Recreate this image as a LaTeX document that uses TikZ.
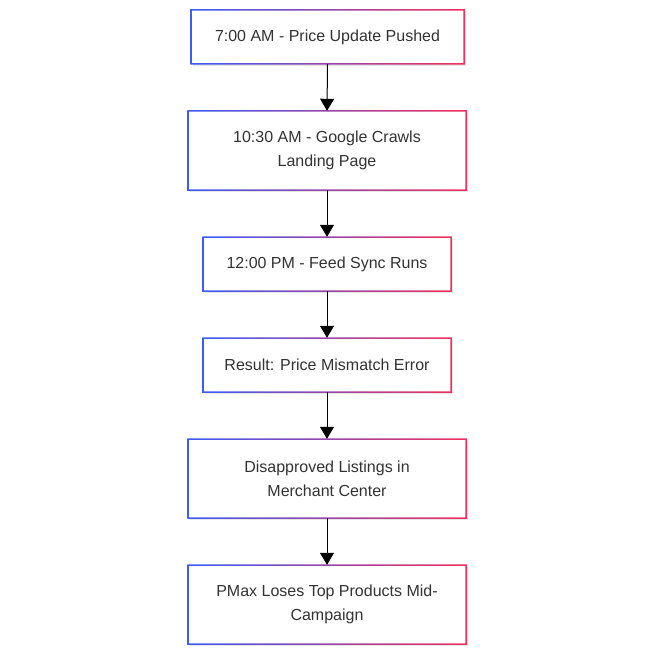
\documentclass[tikz,border=0pt]{standalone}
\usepackage{fontspec}
\setmainfont{Liberation Sans}
\usetikzlibrary{arrows.meta}
\definecolor{bl}{HTML}{3A5CF8}
\definecolor{pk}{HTML}{F2305C}
\definecolor{tx}{HTML}{333333}
\tikzset{
  boxnode/.style={draw=none,fill=white,align=center,text=tx,font=\fontsize{16}{24}\selectfont,inner sep=0pt},
  conn/.style={-{Triangle[length=12pt,width=14pt]},line width=1pt,black}
}
\newcommand{\gbox}[6]{% name, x1,y1,x2,y2, text
  \fill[black!10] (#2+1.5,#3+2) rectangle (#4+1.5,#5+2);
  \node[boxnode,minimum width=#4-#2,minimum height=#5-#3] (#1) at ({(#2+#4)/2},{(#3+#5)/2}) {#6};
  \path[even odd rule,left color=bl,right color=pk]
     (#2-0.75,#3-0.75) rectangle (#4+0.75,#5+0.75)
     (#2+0.75,#3+0.75) rectangle (#4-0.75,#5-0.75);
}
\begin{document}
\begin{tikzpicture}[x=1pt,y=-1pt]
\useasboundingbox[fill=white] (0,0) rectangle (655,655);
\gbox{a}{191}{10}{464}{64}{7:00 AM - Price Update Pushed}
\gbox{b}{188}{111}{466}{190}{10:30 AM - Google Crawls\\Landing Page}
\gbox{c}{203}{237}{451}{291}{12:00 PM - Feed Sync Runs}
\gbox{d}{203}{338}{451}{392}{Result: Price Mismatch Error}
\gbox{e}{188}{439}{466}{518}{Disapproved Listings in\\Merchant Center}
\gbox{f}{188}{565}{466}{644}{PMax Loses Top Products Mid-\\Campaign}
\draw[conn] (a.south) -- (b.north);
\draw[conn] (b.south) -- (c.north);
\draw[conn] (c.south) -- (d.north);
\draw[conn] (d.south) -- (e.north);
\draw[conn] (e.south) -- (f.north);
\end{tikzpicture}
\end{document}
